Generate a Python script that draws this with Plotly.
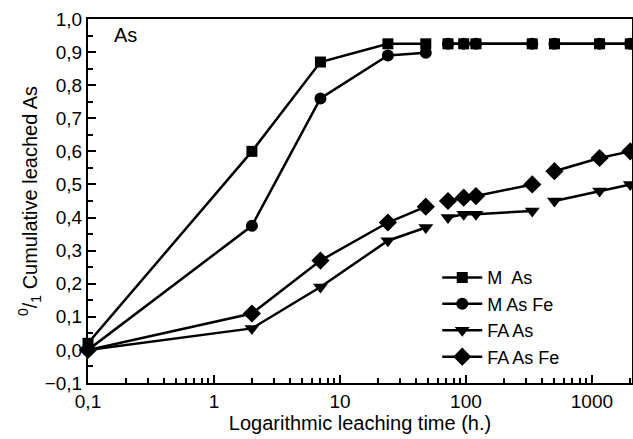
import plotly.graph_objects as go

# Data (leaching time in h; cumulative leached fraction). None = break in line
time_h = [0.1, 2, 7, 24, 48, None, 72, 96, 120, 336, None, 504, 1150, 2016]
m_as = [0.02, 0.60, 0.87, 0.925, 0.925, None, 0.925, 0.925, 0.925, 0.925, None, 0.925, 0.925, 0.925]
m_as_fe = [0.0, 0.375, 0.76, 0.89, 0.898, None, 0.925, 0.925, 0.925, 0.925, None, 0.925, 0.925, 0.925]
fa_as = [0.0, 0.065, 0.19, 0.33, 0.37, None, 0.40, 0.41, 0.41, 0.42, None, 0.45, 0.48, 0.50]
fa_as_fe = [0.0, 0.11, 0.27, 0.385, 0.433, None, 0.45, 0.46, 0.465, 0.50, None, 0.54, 0.58, 0.60]

series_names = ["M  As", "M As Fe", "FA As", "FA As Fe"]
series_vals = [m_as, m_as_fe, fa_as, fa_as_fe]
symbols = ["square", "circle", "triangle-down", "diamond"]
sizes = [11, 12, 13, 14]

x_tickvals = [0.1, 1, 10, 100, 1000]
x_ticktext = ["0,1", "1", "10", "100", "1000"]
x_minor = [m * 10 ** e for e in (-1, 0, 1, 2, 3) for m in range(2, 10) if m * 10 ** e < 2100]

FONT = "Liberation Sans, Arial, sans-serif"

fig = go.Figure()
for name, vals, sym, sz in zip(series_names, series_vals, symbols, sizes):
    fig.add_trace(go.Scatter(
        x=time_h, y=vals, name=name, mode="lines+markers",
        line=dict(color="black", width=2.5),
        marker=dict(symbol=sym, size=sz, color="black"),
        connectgaps=False, cliponaxis=False,
    ))

fig.add_annotation(x=0.045, y=0.955, xref="paper", yref="paper", text="As",
                   showarrow=False, xanchor="left", yanchor="middle",
                   font=dict(size=20, color="black", family=FONT))

fig.update_layout(
    width=633, height=439,
    margin=dict(l=88, r=1, t=19, b=56, autoexpand=False),
    paper_bgcolor="white", plot_bgcolor="white",
    separators=",.",
    font=dict(family=FONT, size=19, color="black"),
    showlegend=True,
    legend=dict(x=0.642, y=0.34, xanchor="left", yanchor="top",
                bgcolor="rgba(0,0,0,0)", font=dict(size=18, family=FONT),
                tracegroupgap=0, itemwidth=40),
)
fig.update_xaxes(
    type="log", range=[-1, 3.318], automargin=False,
    tickvals=x_tickvals, ticktext=x_ticktext,
    ticks="inside", ticklen=8, tickwidth=2, tickcolor="black",
    minor=dict(tickvals=x_minor, ticks="inside", ticklen=5, tickwidth=1.5, tickcolor="black"),
    showline=True, linewidth=2, linecolor="black", mirror=True,
    showgrid=False, zeroline=False,
    title=dict(text="Logarithmic leaching time (h.)", font=dict(size=20, family=FONT), standoff=4),
    tickfont=dict(size=19, family=FONT),
)
fig.update_yaxes(
    range=[-0.1, 1.0], dtick=0.1, tick0=0, tickformat=".1f", automargin=False,
    ticks="inside", ticklen=8, tickwidth=2, tickcolor="black",
    minor=dict(dtick=0.05, ticks="inside", ticklen=5, tickwidth=1.5, tickcolor="black"),
    showline=True, linewidth=2, linecolor="black", mirror=True,
    showgrid=False, zeroline=False,
    title=dict(text="<sup>0</sup>/<sub>1</sub> Cumulative leached As", font=dict(size=20, family=FONT), standoff=2),
    tickfont=dict(size=19, family=FONT),
)

fig.write_html("out.html", config={"displayModeBar": False},
               post_script="document.body.style.margin='0';document.body.style.overflow='hidden';")
